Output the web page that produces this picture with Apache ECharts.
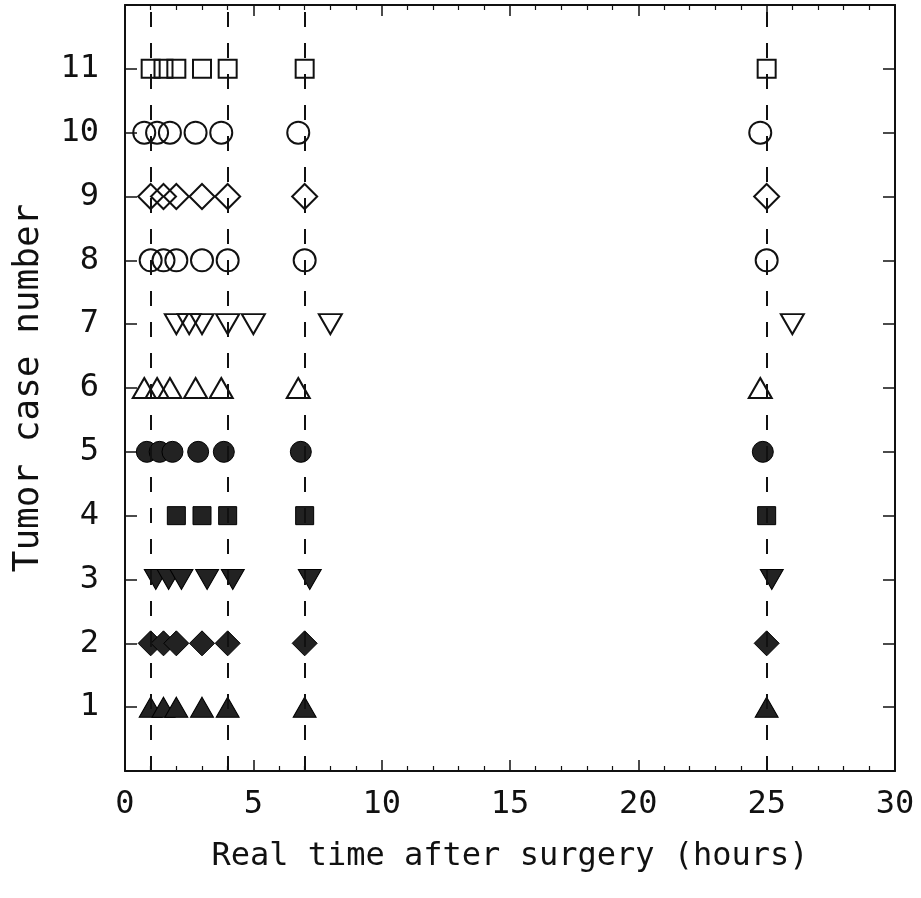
<!DOCTYPE html>
<html>
<head>
<meta charset="utf-8">
<script src="https://cdn.jsdelivr.net/npm/echarts@6/dist/echarts.min.js"></script>
<style>
  html, body { margin: 0; padding: 0; background: #fff; }
  #chart { width: 921px; height: 898px; }
</style>
</head>
<body>
<div id="chart"></div>
<script>
// times (hours) for each tumor case
const case1 = [1, 1.5, 2, 3, 4, 7, 25];
const case2 = [1, 1.5, 2, 3, 4, 7, 25];
const case3 = [1.2, 1.7, 2.2, 3.2, 4.2, 7.2, 25.2];
const case4 = [2, 3, 4, 7, 25];
const case5 = [0.85, 1.35, 1.85, 2.85, 3.85, 6.85, 24.85];
const case6 = [0.75, 1.25, 1.75, 2.75, 3.75, 6.75, 24.75];
const case7 = [2, 2.5, 3, 4, 5, 8, 26];
const case8 = [1, 1.5, 2, 3, 4, 7, 25];
const case9 = [1, 1.5, 2, 3, 4, 7, 25];
const case10 = [0.75, 1.25, 1.75, 2.75, 3.75, 6.75, 24.75];
const case11 = [1, 1.5, 2, 3, 4, 7, 25];

const dashedTimes = [1, 4, 7, 25];
const xTicks = [0, 5, 10, 15, 20, 25, 30];
const yTicks = [1, 2, 3, 4, 5, 6, 7, 8, 9, 10, 11];

const FONT = 'DejaVu Sans Mono';
const INK = '#111';
const FILL = '#222';

// marker style per case
const styles = {
  1: { symbol: 'triangle', size: [23, 20], filled: true },
  2: { symbol: 'diamond', size: [25, 25], filled: true },
  3: { symbol: 'triangle', size: [23, 20], filled: true, rotate: 180 },
  4: { symbol: 'rect', size: [18, 18], filled: true },
  5: { symbol: 'circle', size: [21, 21], filled: true },
  6: { symbol: 'triangle', size: [23, 20], filled: false },
  7: { symbol: 'triangle', size: [23, 20], filled: false, rotate: 180 },
  8: { symbol: 'circle', size: [22, 22], filled: false },
  9: { symbol: 'diamond', size: [25, 25], filled: false },
  10: { symbol: 'circle', size: [22, 22], filled: false },
  11: { symbol: 'rect', size: [18, 18], filled: false }
};

const cases = [case1, case2, case3, case4, case5, case6, case7, case8, case9, case10, case11];

const scatterSeries = cases.map((times, i) => {
  const n = i + 1;
  const s = styles[n];
  return {
    name: 'Case ' + n,
    type: 'scatter',
    data: times.map(t => [t, n]),
    symbol: s.symbol,
    symbolSize: s.size,
    symbolRotate: s.rotate || 0,
    itemStyle: s.filled
      ? { color: FILL, borderColor: '#000', borderWidth: 1, opacity: 1 }
      : { color: 'rgba(0,0,0,0)', borderColor: INK, borderWidth: 2, opacity: 1 },
    z: 3
  };
});

const chart = echarts.init(document.getElementById('chart'));

const tickFmt = (list) => (v) => (list.indexOf(v) >= 0 ? String(v) : '');

const frameLine = { show: true, onZero: false, lineStyle: { color: INK, width: 2 } };
const majorTick = (len) => ({ show: true, inside: true, length: len, lineStyle: { color: INK, width: 1.5 } });
const minorX = { show: true, splitNumber: 5, length: 5, lineStyle: { color: INK, width: 1.2 } };

chart.setOption({
  animation: false,
  grid: { left: 125, right: 26, top: 5, bottom: 127, containLabel: false },
  xAxis: [
    {
      type: 'value', min: 0, max: 30, interval: 5, position: 'bottom',
      name: 'Real time after surgery (hours)', nameLocation: 'middle', nameGap: 70,
      nameTextStyle: { fontFamily: FONT, fontSize: 32, color: INK },
      axisLine: frameLine,
      axisTick: majorTick(11),
      minorTick: minorX,
      axisLabel: { fontFamily: FONT, fontSize: 32, color: INK, margin: 18, formatter: tickFmt(xTicks) },
      splitLine: { show: false }
    },
    {
      type: 'value', min: 0, max: 30, interval: 5, position: 'top',
      axisLine: frameLine,
      axisTick: majorTick(11),
      minorTick: minorX,
      axisLabel: { show: false },
      splitLine: { show: false }
    }
  ],
  yAxis: [
    {
      type: 'value', min: 0, max: 12, interval: 1, position: 'left',
      name: 'Tumor case number', nameLocation: 'middle', nameGap: 78, nameRotate: 90,
      nameTextStyle: { fontFamily: FONT, fontSize: 36, color: INK },
      axisLine: frameLine,
      axisTick: majorTick(12),
      axisLabel: { fontFamily: FONT, fontSize: 32, color: INK, margin: 26, formatter: tickFmt(yTicks) },
      splitLine: { show: false }
    },
    {
      type: 'value', min: 0, max: 12, interval: 1, position: 'right',
      axisLine: frameLine,
      axisTick: majorTick(12),
      axisLabel: { show: false },
      splitLine: { show: false }
    }
  ],
  series: [
    {
      name: 'sampling times',
      type: 'line',
      data: [],
      z: 1,
      markLine: {
        silent: true,
        symbol: ['none', 'none'],
        label: { show: false },
        lineStyle: { color: INK, width: 2, type: [15, 16] },
        data: dashedTimes.map(t => ({ xAxis: t }))
      }
    },
    ...scatterSeries
  ]
});
</script>
</body>
</html>
